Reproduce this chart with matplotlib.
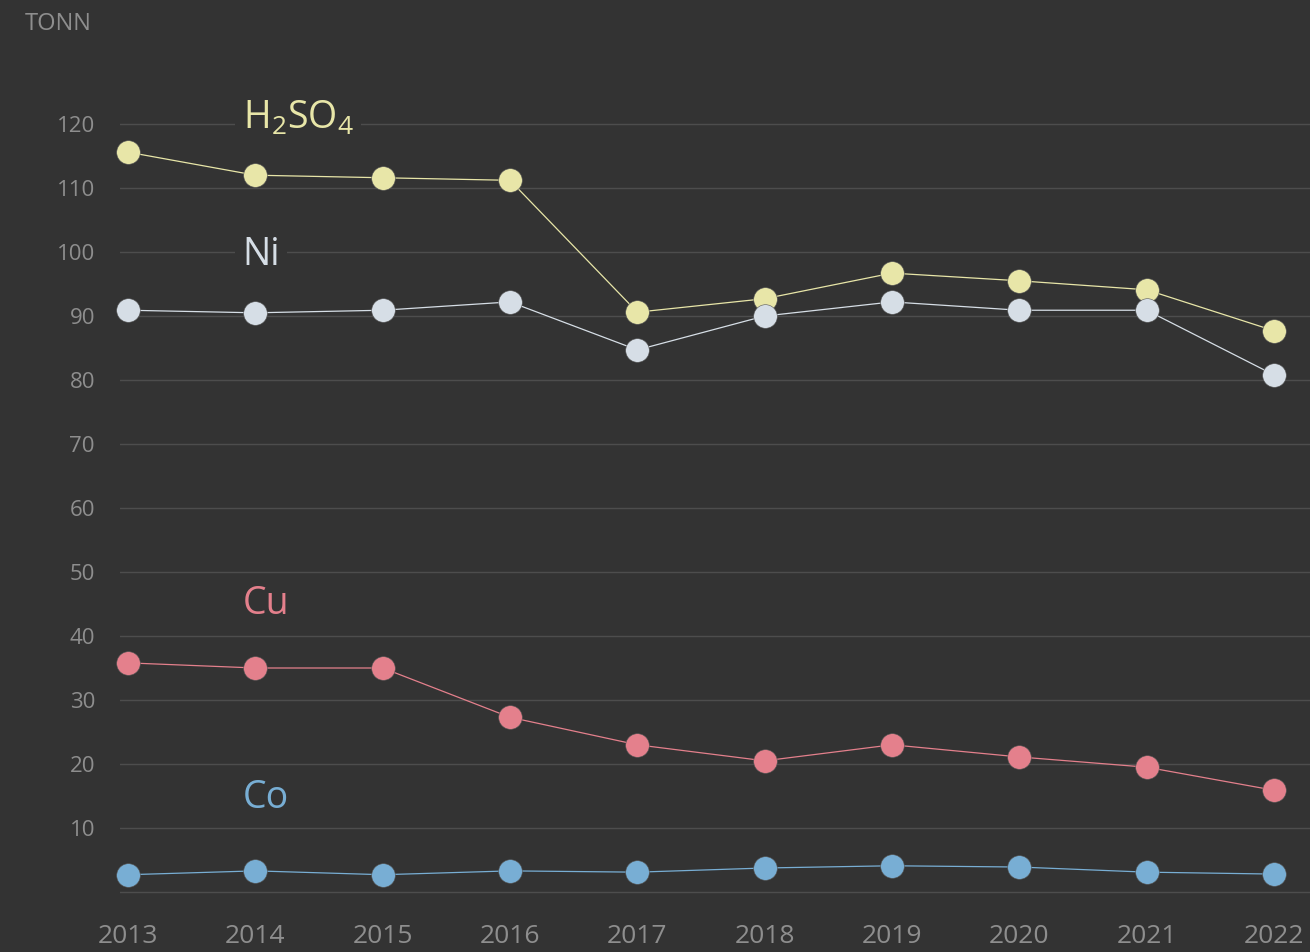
import matplotlib
matplotlib.use("Agg")
import matplotlib.pyplot as plt

plt.rcParams['font.family'] = ['Open Sans', 'DejaVu Sans']
plt.rcParams['mathtext.fontset'] = 'custom'
plt.rcParams['mathtext.rm'] = 'Open Sans'

years = [2013, 2014, 2015, 2016, 2017, 2018, 2019, 2020, 2021, 2022]
h2so4 = [115.6, 112.0, 111.6, 111.2, 90.6, 92.7, 96.7, 95.5, 94.1, 87.7]
ni = [90.9, 90.5, 90.9, 92.2, 84.7, 90.0, 92.2, 90.9, 90.9, 80.8]
cu = [35.8, 35.0, 35.0, 27.3, 23.0, 20.5, 23.0, 21.1, 19.5, 15.9]
co = [2.7, 3.3, 2.7, 3.3, 3.1, 3.75, 4.1, 3.9, 3.1, 2.8]

series = [
    (h2so4, '#e8e6a8', r'$\mathrm{H_2SO_4}$', 120.8),
    (ni, '#d6dee6', 'Ni', 99.5),
    (cu, '#e4808c', 'Cu', 45.0),
    (co, '#78aed4', 'Co', 14.7),
]

bg = '#333333'
fig = plt.figure(figsize=(13.1, 9.52), dpi=100, facecolor=bg)
ax = fig.add_axes([120 / 1310, 52 / 952, 1190 / 1310, 840 / 952])
ax.set_facecolor(bg)

for vals, col, name, ly in series:
    ax.plot(years, vals, color=col, lw=0.9, zorder=3, clip_on=False)
    ax.plot(years, vals, 'o', color=col, ms=17, mec='#555555', mew=0.4,
            zorder=4, clip_on=False)
    ax.text(2013.9, ly, name, color=col, fontsize=27, va='center', ha='left',
            zorder=5, bbox=dict(facecolor=bg, edgecolor='none', pad=5))

ax.set_xlim(2012.937, 2022.283)
ax.set_ylim(-1.25, 130)
ax.set_yticks(range(0, 121, 10))
ax.set_yticklabels([''] + [str(v) for v in range(10, 121, 10)])
ax.grid(axis='y', color='#4d4d4d', lw=1)
ax.set_axisbelow(True)
ax.set_xticks(years)
ax.tick_params(axis='y', length=0, colors='#8e8e8e', labelsize=16, pad=18)
ax.tick_params(axis='x', length=0, colors='#8e8e8e', labelsize=19, pad=17)
for s in ax.spines.values():
    s.set_visible(False)

fig.text(25 / 1310, 1 - 24 / 952, 'TONN', color='#8e8e8e', fontsize=17,
         va='center', ha='left')

fig.savefig('out.png', dpi=100, facecolor=bg)
